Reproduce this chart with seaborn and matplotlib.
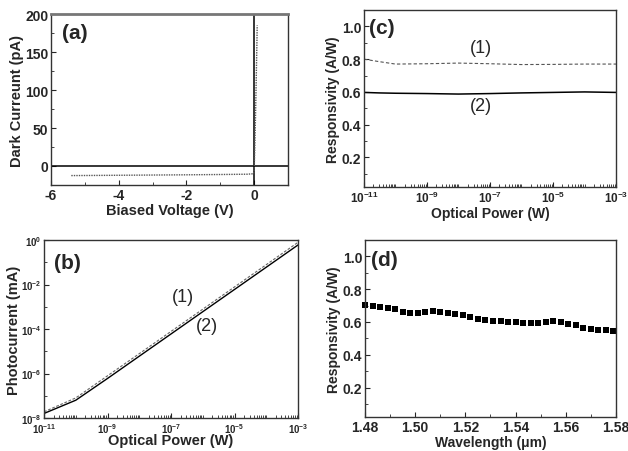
import numpy as np
import pandas as pd
import matplotlib
matplotlib.use("Agg")
import matplotlib.pyplot as plt
import seaborn as sns
from matplotlib.ticker import MultipleLocator, FixedLocator, LogLocator, NullFormatter, FormatStrFormatter

# (a) dark current vs bias
bias_v = [-5.4, -5.0, -4.0, -3.0, -2.0, -1.0, -0.2, -0.02, 0.0, 0.02, 0.04, 0.06, 0.08, 0.09]
dark_pa = [-12.6, -12.5, -12.2, -11.9, -11.6, -11.2, -10.8, -10.2, -6.0, 25, 65, 110, 158, 185]

# (b) photocurrent vs optical power
power_w = [1e-11, 1e-10, 1e-9, 1e-8, 1e-7, 1e-6, 1e-5, 1e-4, 1e-3]
photo_1 = [1.9e-8, 8.0e-8, 7.9e-7, 7.8e-6, 7.8e-5, 7.8e-4, 7.8e-3, 7.8e-2, 0.79]
photo_2 = [1.6e-8, 6.3e-8, 6.0e-7, 6.0e-6, 6.0e-5, 6.0e-4, 6.0e-3, 6.0e-2, 0.60]

# (c) responsivity vs optical power
power_c = [1e-11, 3e-11, 1e-10, 1e-9, 1e-8, 1e-7, 1e-6, 1e-5, 1e-4, 1e-3]
resp_1 = [0.80, 0.785, 0.770, 0.772, 0.776, 0.772, 0.767, 0.768, 0.770, 0.770]
resp_2 = [0.597, 0.594, 0.592, 0.590, 0.587, 0.590, 0.594, 0.597, 0.600, 0.597]

# (d) responsivity vs wavelength
wavelength = [1.480, 1.483, 1.486, 1.489, 1.492, 1.495, 1.498, 1.501, 1.504, 1.507,
              1.510, 1.513, 1.516, 1.519, 1.522, 1.525, 1.528, 1.531, 1.534, 1.537,
              1.540, 1.543, 1.546, 1.549, 1.552, 1.555, 1.558, 1.561, 1.564, 1.567,
              1.570, 1.573, 1.576, 1.579]
resp_wl = [0.703, 0.700, 0.690, 0.686, 0.676, 0.660, 0.655, 0.655, 0.660, 0.665,
           0.660, 0.657, 0.650, 0.640, 0.630, 0.616, 0.610, 0.608, 0.606, 0.602,
           0.600, 0.594, 0.596, 0.596, 0.600, 0.604, 0.598, 0.590, 0.580, 0.565,
           0.557, 0.553, 0.549, 0.547]

log_major = [1e-11, 1e-9, 1e-7, 1e-5, 1e-3]
log_major_y = [1e-8, 1e-6, 1e-4, 1e-2, 1e0]

sns.set_style("ticks")
plt.rcParams['font.family'] = ['Liberation Sans', 'DejaVu Sans']
plt.rcParams['axes.unicode_minus'] = False
plt.rcParams['xtick.direction'] = 'in'
plt.rcParams['ytick.direction'] = 'in'
plt.rcParams['axes.edgecolor'] = '#333333'
plt.rcParams['axes.linewidth'] = 1.0

fig = plt.figure(figsize=(6.28, 4.52), dpi=100)
ax_a = fig.add_axes([0.0812, 0.5885, 0.3774, 0.3783])
ax_c = fig.add_axes([0.5796, 0.5841, 0.4013, 0.3916])
ax_b = fig.add_axes([0.0701, 0.0730, 0.4045, 0.3938])
ax_d = fig.add_axes([0.5812, 0.0752, 0.3997, 0.3916])

lab_kw = dict(fontsize=10.5, fontweight='bold')


def log_ticks(ax, fmt_size):
    ax.xaxis.set_major_locator(FixedLocator(log_major))
    ax.xaxis.set_minor_locator(LogLocator(base=10, subs=np.arange(1, 10), numticks=20))
    ax.xaxis.set_minor_formatter(NullFormatter())
    ax.tick_params(axis='x', which='major', labelsize=fmt_size)


# ---- (a)
df_a = pd.DataFrame({'V': bias_v, 'I': dark_pa})
ax_a.axhline(0, color='black', lw=1.1)
ax_a.axvline(0, color='black', lw=1.1)
sns.lineplot(data=df_a, x='V', y='I', ax=ax_a, color='#555555', lw=1.0,
             linestyle=(0, (1, 0.8)), sort=False)
ax_a.set_xlim(-6, 1)
ax_a.set_ylim(-25, 200)
ax_a.xaxis.set_major_locator(FixedLocator([-6, -4, -2, 0]))
ax_a.xaxis.set_minor_locator(FixedLocator([-5, -3, -1]))
ax_a.yaxis.set_major_locator(MultipleLocator(50))
ax_a.yaxis.set_minor_locator(MultipleLocator(25))
ax_a.tick_params(axis='both', which='major', labelsize=10)
ax_a.set_xlabel('Biased Voltage (V)', labelpad=1, **lab_kw)
ax_a.set_ylabel('Dark Curreunt (pA)', labelpad=1, **lab_kw)
ax_a.spines['top'].set_color('#777777')
ax_a.spines['top'].set_linewidth(2)
ax_a.text(0.045, 0.86, '(a)', transform=ax_a.transAxes, fontsize=15, fontweight='bold')

# ---- (b)
df_b = pd.DataFrame({'P': power_w * 2, 'I': photo_1 + photo_2,
                     'curve': ['1'] * len(power_w) + ['2'] * len(power_w)})
sns.lineplot(data=df_b[df_b.curve == '1'], x='P', y='I', ax=ax_b, color='#666666',
             lw=0.8, linestyle=(0, (2.5, 1.5)))
sns.lineplot(data=df_b[df_b.curve == '2'], x='P', y='I', ax=ax_b, color='black', lw=1.0)
ax_b.set_xscale('log')
ax_b.set_yscale('log')
ax_b.set_xlim(1e-11, 1e-3)
ax_b.set_ylim(1e-8, 1e0)
log_ticks(ax_b, 7)
ax_b.yaxis.set_major_locator(FixedLocator(log_major_y))
ax_b.yaxis.set_minor_locator(LogLocator(base=10, subs=[1.0], numticks=20))
ax_b.yaxis.set_minor_formatter(NullFormatter())
ax_b.tick_params(axis='y', which='major', labelsize=7)
ax_b.set_xlabel('Optical Power (W)', labelpad=-1, **lab_kw)
ax_b.set_ylabel('Photocurrent (mA)', labelpad=0, **lab_kw)
ax_b.text(0.04, 0.84, '(b)', transform=ax_b.transAxes, fontsize=15, fontweight='bold')
ax_b.text(2.3e-7, 2.8e-3, '(1)', fontsize=13, ha='center', va='center')
ax_b.text(1.35e-6, 1.5e-4, '(2)', fontsize=13, ha='center', va='center')

# ---- (c)
df_c = pd.DataFrame({'P': power_c, 'r1': resp_1, 'r2': resp_2})
sns.lineplot(data=df_c, x='P', y='r1', ax=ax_c, color='#555555', lw=0.8,
             linestyle=(0, (3, 2)))
sns.lineplot(data=df_c, x='P', y='r2', ax=ax_c, color='black', lw=1.1)
ax_c.set_xscale('log')
ax_c.set_xlim(1e-11, 1e-3)
ax_c.set_ylim(0.02, 1.1)
log_ticks(ax_c, 8.5)
ax_c.yaxis.set_major_locator(MultipleLocator(0.2))
ax_c.yaxis.set_minor_locator(MultipleLocator(0.1))
ax_c.yaxis.set_major_formatter(FormatStrFormatter('%.1f'))
ax_c.tick_params(axis='y', which='major', labelsize=10)
ax_c.set_xlabel('Optical Power (W)', labelpad=1, fontsize=10, fontweight='bold')
ax_c.set_ylabel('Responsivity (A/W)', labelpad=1, fontsize=10, fontweight='bold')
ax_c.text(0.02, 0.87, '(c)', transform=ax_c.transAxes, fontsize=15, fontweight='bold')
ax_c.text(5e-8, 0.87, '(1)', fontsize=13, ha='center', va='center')
ax_c.text(5e-8, 0.515, '(2)', fontsize=13, ha='center', va='center')

# ---- (d)
df_d = pd.DataFrame({'wl': wavelength, 'r': resp_wl})
sns.scatterplot(data=df_d, x='wl', y='r', ax=ax_d, color='black', marker='s',
                s=21, edgecolor='black', linewidth=0, clip_on=False)
ax_d.set_xlim(1.48, 1.58)
ax_d.set_ylim(0.02, 1.1)
ax_d.xaxis.set_major_locator(MultipleLocator(0.02))
ax_d.xaxis.set_minor_locator(MultipleLocator(0.01))
ax_d.yaxis.set_major_locator(MultipleLocator(0.2))
ax_d.yaxis.set_minor_locator(MultipleLocator(0.1))
ax_d.xaxis.set_major_formatter(FormatStrFormatter('%.2f'))
ax_d.yaxis.set_major_formatter(FormatStrFormatter('%.1f'))
ax_d.tick_params(axis='both', which='major', labelsize=10)
ax_d.set_xlabel('Wavelength (\u03bcm)', labelpad=1, fontsize=10, fontweight='bold')
ax_d.set_ylabel('Responsivity (A/W)', labelpad=1, fontsize=10, fontweight='bold')
ax_d.text(0.025, 0.86, '(d)', transform=ax_d.transAxes, fontsize=15, fontweight='bold')

for ax in (ax_a, ax_b, ax_c, ax_d):
    ax.tick_params(which='major', length=3.5, width=0.8, pad=2, top=False, right=False)
    ax.tick_params(which='minor', length=2, width=0.6, top=False, right=False)
    for t in ax.get_xticklabels() + ax.get_yticklabels():
        t.set_fontweight('bold')

fig.savefig('out.png', dpi=100)
